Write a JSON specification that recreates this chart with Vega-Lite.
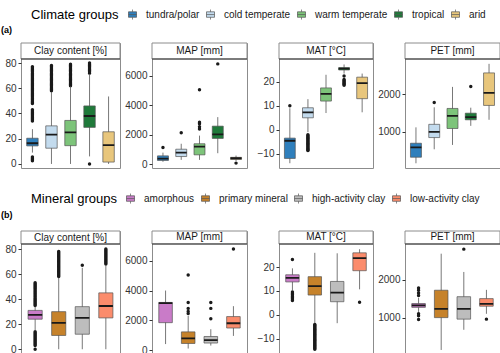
{
"$schema": "https://vega.github.io/schema/vega-lite/v6.json",
"padding": {"left": 0, "top": 9, "right": 1, "bottom": 0},
"autosize": {"type": "pad"},
"config": {
  "font": "Liberation Sans",
  "view": {"stroke": "#8c8c8c", "strokeWidth": 1},
  "axis": {"grid": false, "domain": false, "tickColor": "#333333", "tickSize": 3, "labelFontSize": 10, "labelColor": "#333333", "labelPadding": 2, "title": null, "labelOverlap": false, "labelBound": false, "labelFlush": false, "minExtent": 0, "tickCount": 10},
  "axisY": {"minExtent": 0, "labelOverlap": false},
  "circle": {"size": 12, "color": "#1a1a1a", "opacity": 1},
  "rule": {"color": "#555555", "strokeWidth": 0.8},
  "bar": {"stroke": "#555555", "strokeWidth": 0.7},
  "text": {"fontSize": 10, "color": "#1a1a1a"},
  "title": {"frame": "group"},
  "legend": {"titleOrient": "left", "titleFontSize": 13, "titleFontWeight": "normal", "titleColor": "#000000", "labelFontSize": 10, "labelColor": "#1a1a1a", "symbolType": "M-0.8,-0.55H0.8V0.55H-0.8Z M-0.8,0H0.8 M0,-0.55V-1 M0,0.55V1", "symbolSize": 100, "symbolStrokeColor": "#555555", "symbolStrokeWidth": 0.7, "symbolOpacity": 1, "columnPadding": 5, "labelOffset": 8, "titlePadding": 8, "padding": 0}
},
"datasets": {
  "boxA": [
    {"v": "Clay", "g": "tundra/polar", "lo": 9, "q1": 14.3, "med": 16.4, "q3": 20.4, "hi": 27.6},
    {"v": "Clay", "g": "cold temperate", "lo": 0, "q1": 12.5, "med": 23.3, "q3": 30.2, "hi": 57},
    {"v": "Clay", "g": "warm temperate", "lo": 0, "q1": 14.5, "med": 25, "q3": 34.5, "hi": 61.5},
    {"v": "Clay", "g": "tropical", "lo": 6, "q1": 29, "med": 38, "q3": 46, "hi": 71},
    {"v": "Clay", "g": "arid", "lo": 0, "q1": 1.5, "med": 15, "q3": 25.5, "hi": 53.5},
    {"v": "MAP", "g": "tundra/polar", "lo": 180, "q1": 270, "med": 400, "q3": 580, "hi": 800},
    {"v": "MAP", "g": "cold temperate", "lo": 310, "q1": 535, "med": 800, "q3": 1030, "hi": 1400},
    {"v": "MAP", "g": "warm temperate", "lo": 310, "q1": 650, "med": 1200, "q3": 1400, "hi": 1950},
    {"v": "MAP", "g": "tropical", "lo": 760, "q1": 1760, "med": 2030, "q3": 2590, "hi": 3200},
    {"v": "MAP", "g": "arid", "lo": 230, "q1": 340, "med": 420, "q3": 480, "hi": 600},
    {"v": "MAT", "g": "tundra/polar", "lo": -14, "q1": -12, "med": -4.6, "q3": -3.5, "hi": 9},
    {"v": "MAT", "g": "cold temperate", "lo": -1, "q1": 5, "med": 7.3, "q3": 9.2, "hi": 12.8},
    {"v": "MAT", "g": "warm temperate", "lo": 7, "q1": 12, "med": 15, "q3": 17.5, "hi": 23},
    {"v": "MAT", "g": "tropical", "lo": 23.5, "q1": 25, "med": 25.6, "q3": 26, "hi": 27.3},
    {"v": "MAT", "g": "arid", "lo": 7.3, "q1": 13, "med": 19.5, "q3": 22, "hi": 23.5},
    {"v": "PET", "g": "tundra/polar", "lo": 170, "q1": 330, "med": 590, "q3": 700, "hi": 1120},
    {"v": "PET", "g": "cold temperate", "lo": 540, "q1": 850, "med": 1000, "q3": 1200, "hi": 1650},
    {"v": "PET", "g": "warm temperate", "lo": 655, "q1": 1090, "med": 1425, "q3": 1620, "hi": 2190},
    {"v": "PET", "g": "tropical", "lo": 1160, "q1": 1320, "med": 1390, "q3": 1495, "hi": 1640},
    {"v": "PET", "g": "arid", "lo": 1320, "q1": 1700, "med": 2030, "q3": 2560, "hi": 2800}
  ],
  "outA": [
    {"v": "Clay", "g": "tundra/polar", "y": 2.6}, {"v": "Clay", "g": "tundra/polar", "y": 3.5}, {"v": "Clay", "g": "tundra/polar", "y": 4.5}, {"v": "Clay", "g": "tundra/polar", "y": 5.5},
    {"v": "Clay", "g": "tundra/polar", "y": 34}, {"v": "Clay", "g": "tundra/polar", "y": 35}, {"v": "Clay", "g": "tundra/polar", "y": 36}, {"v": "Clay", "g": "tundra/polar", "y": 37}, {"v": "Clay", "g": "tundra/polar", "y": 38}, {"v": "Clay", "g": "tundra/polar", "y": 39}, {"v": "Clay", "g": "tundra/polar", "y": 40}, {"v": "Clay", "g": "tundra/polar", "y": 41}, {"v": "Clay", "g": "tundra/polar", "y": 42}, {"v": "Clay", "g": "tundra/polar", "y": 43},
    {"v": "Clay", "g": "tundra/polar", "y": 48}, {"v": "Clay", "g": "tundra/polar", "y": 49}, {"v": "Clay", "g": "tundra/polar", "y": 50}, {"v": "Clay", "g": "tundra/polar", "y": 51}, {"v": "Clay", "g": "tundra/polar", "y": 52}, {"v": "Clay", "g": "tundra/polar", "y": 53}, {"v": "Clay", "g": "tundra/polar", "y": 54}, {"v": "Clay", "g": "tundra/polar", "y": 55}, {"v": "Clay", "g": "tundra/polar", "y": 56}, {"v": "Clay", "g": "tundra/polar", "y": 57}, {"v": "Clay", "g": "tundra/polar", "y": 58}, {"v": "Clay", "g": "tundra/polar", "y": 59}, {"v": "Clay", "g": "tundra/polar", "y": 60}, {"v": "Clay", "g": "tundra/polar", "y": 61}, {"v": "Clay", "g": "tundra/polar", "y": 62}, {"v": "Clay", "g": "tundra/polar", "y": 63}, {"v": "Clay", "g": "tundra/polar", "y": 64}, {"v": "Clay", "g": "tundra/polar", "y": 65}, {"v": "Clay", "g": "tundra/polar", "y": 66}, {"v": "Clay", "g": "tundra/polar", "y": 67}, {"v": "Clay", "g": "tundra/polar", "y": 68}, {"v": "Clay", "g": "tundra/polar", "y": 69}, {"v": "Clay", "g": "tundra/polar", "y": 70}, {"v": "Clay", "g": "tundra/polar", "y": 71}, {"v": "Clay", "g": "tundra/polar", "y": 72}, {"v": "Clay", "g": "tundra/polar", "y": 73}, {"v": "Clay", "g": "tundra/polar", "y": 74}, {"v": "Clay", "g": "tundra/polar", "y": 75}, {"v": "Clay", "g": "tundra/polar", "y": 76}, {"v": "Clay", "g": "tundra/polar", "y": 77},
    {"v": "Clay", "g": "cold temperate", "y": 58}, {"v": "Clay", "g": "cold temperate", "y": 59}, {"v": "Clay", "g": "cold temperate", "y": 60}, {"v": "Clay", "g": "cold temperate", "y": 61}, {"v": "Clay", "g": "cold temperate", "y": 62}, {"v": "Clay", "g": "cold temperate", "y": 63}, {"v": "Clay", "g": "cold temperate", "y": 64}, {"v": "Clay", "g": "cold temperate", "y": 65}, {"v": "Clay", "g": "cold temperate", "y": 66}, {"v": "Clay", "g": "cold temperate", "y": 67}, {"v": "Clay", "g": "cold temperate", "y": 68}, {"v": "Clay", "g": "cold temperate", "y": 69}, {"v": "Clay", "g": "cold temperate", "y": 70}, {"v": "Clay", "g": "cold temperate", "y": 71}, {"v": "Clay", "g": "cold temperate", "y": 72}, {"v": "Clay", "g": "cold temperate", "y": 73}, {"v": "Clay", "g": "cold temperate", "y": 74}, {"v": "Clay", "g": "cold temperate", "y": 75}, {"v": "Clay", "g": "cold temperate", "y": 76}, {"v": "Clay", "g": "cold temperate", "y": 77}, {"v": "Clay", "g": "cold temperate", "y": 78},
    {"v": "Clay", "g": "warm temperate", "y": 62}, {"v": "Clay", "g": "warm temperate", "y": 63}, {"v": "Clay", "g": "warm temperate", "y": 64}, {"v": "Clay", "g": "warm temperate", "y": 65}, {"v": "Clay", "g": "warm temperate", "y": 66}, {"v": "Clay", "g": "warm temperate", "y": 67}, {"v": "Clay", "g": "warm temperate", "y": 68}, {"v": "Clay", "g": "warm temperate", "y": 69}, {"v": "Clay", "g": "warm temperate", "y": 70}, {"v": "Clay", "g": "warm temperate", "y": 71}, {"v": "Clay", "g": "warm temperate", "y": 72}, {"v": "Clay", "g": "warm temperate", "y": 73}, {"v": "Clay", "g": "warm temperate", "y": 74}, {"v": "Clay", "g": "warm temperate", "y": 75}, {"v": "Clay", "g": "warm temperate", "y": 76}, {"v": "Clay", "g": "warm temperate", "y": 77}, {"v": "Clay", "g": "warm temperate", "y": 78}, {"v": "Clay", "g": "warm temperate", "y": 79},
    {"v": "Clay", "g": "tropical", "y": 0}, {"v": "Clay", "g": "tropical", "y": 72}, {"v": "Clay", "g": "tropical", "y": 73}, {"v": "Clay", "g": "tropical", "y": 74}, {"v": "Clay", "g": "tropical", "y": 75}, {"v": "Clay", "g": "tropical", "y": 76}, {"v": "Clay", "g": "tropical", "y": 77}, {"v": "Clay", "g": "tropical", "y": 78}, {"v": "Clay", "g": "tropical", "y": 79}, {"v": "Clay", "g": "tropical", "y": 80},
    {"v": "MAP", "g": "tundra/polar", "y": 1140}, {"v": "MAP", "g": "cold temperate", "y": 2150},
    {"v": "MAP", "g": "warm temperate", "y": 2400}, {"v": "MAP", "g": "warm temperate", "y": 2550}, {"v": "MAP", "g": "warm temperate", "y": 2750}, {"v": "MAP", "g": "warm temperate", "y": 2850}, {"v": "MAP", "g": "warm temperate", "y": 5050},
    {"v": "MAP", "g": "tropical", "y": 6800}, {"v": "MAP", "g": "arid", "y": 90},
    {"v": "MAT", "g": "tundra/polar", "y": 10},
    {"v": "MAT", "g": "cold temperate", "y": -2.1}, {"v": "MAT", "g": "cold temperate", "y": -2.5}, {"v": "MAT", "g": "cold temperate", "y": -2.9}, {"v": "MAT", "g": "cold temperate", "y": -3.3}, {"v": "MAT", "g": "cold temperate", "y": -3.7}, {"v": "MAT", "g": "cold temperate", "y": -4.1}, {"v": "MAT", "g": "cold temperate", "y": -4.5}, {"v": "MAT", "g": "cold temperate", "y": -4.9}, {"v": "MAT", "g": "cold temperate", "y": -5.3}, {"v": "MAT", "g": "cold temperate", "y": -5.7}, {"v": "MAT", "g": "cold temperate", "y": -6.1}, {"v": "MAT", "g": "cold temperate", "y": -6.5}, {"v": "MAT", "g": "cold temperate", "y": -6.9}, {"v": "MAT", "g": "cold temperate", "y": -7.3}, {"v": "MAT", "g": "cold temperate", "y": -7.7}, {"v": "MAT", "g": "cold temperate", "y": -8.1}, {"v": "MAT", "g": "cold temperate", "y": -8.5}, {"v": "MAT", "g": "cold temperate", "y": -8.7},
    {"v": "MAT", "g": "tropical", "y": 22.5}, {"v": "MAT", "g": "tropical", "y": 21}, {"v": "MAT", "g": "tropical", "y": 20.6}, {"v": "MAT", "g": "tropical", "y": 20.2}, {"v": "MAT", "g": "tropical", "y": 19.8}, {"v": "MAT", "g": "tropical", "y": 19.4}, {"v": "MAT", "g": "tropical", "y": 19}, {"v": "MAT", "g": "tropical", "y": 18.6},
    {"v": "PET", "g": "cold temperate", "y": 1780}, {"v": "PET", "g": "tropical", "y": 2200}
  ],
  "boxB": [
    {"v": "Clay", "g": "amorphous", "lo": 15, "q1": 24, "med": 27.5, "q3": 31, "hi": 34},
    {"v": "Clay", "g": "primary mineral", "lo": 0, "q1": 11, "med": 21, "q3": 30, "hi": 57},
    {"v": "Clay", "g": "high-activity clay", "lo": 0, "q1": 12, "med": 25, "q3": 34, "hi": 65},
    {"v": "Clay", "g": "low-activity clay", "lo": 0, "q1": 25, "med": 34.5, "q3": 45, "hi": 67},
    {"v": "MAP", "g": "amorphous", "lo": 400, "q1": 1840, "med": 3150, "q3": 3200, "hi": 4000},
    {"v": "MAP", "g": "primary mineral", "lo": 100, "q1": 440, "med": 780, "q3": 1220, "hi": 2300},
    {"v": "MAP", "g": "high-activity clay", "lo": 300, "q1": 470, "med": 670, "q3": 910, "hi": 1400},
    {"v": "MAP", "g": "low-activity clay", "lo": 950, "q1": 1480, "med": 1800, "q3": 2250, "hi": 2950},
    {"v": "MAT", "g": "amorphous", "lo": 10, "q1": 13.8, "med": 15.5, "q3": 16.8, "hi": 19.5},
    {"v": "MAT", "g": "primary mineral", "lo": -3.5, "q1": 8.3, "med": 12, "q3": 16, "hi": 26},
    {"v": "MAT", "g": "high-activity clay", "lo": -3.5, "q1": 5.5, "med": 9.3, "q3": 14, "hi": 25.8},
    {"v": "MAT", "g": "low-activity clay", "lo": 10.7, "q1": 18.5, "med": 23.8, "q3": 26, "hi": 27.5},
    {"v": "PET", "g": "amorphous", "lo": 1150, "q1": 1270, "med": 1320, "q3": 1370, "hi": 1520},
    {"v": "PET", "g": "primary mineral", "lo": 150, "q1": 1000, "med": 1230, "q3": 1720, "hi": 2680},
    {"v": "PET", "g": "high-activity clay", "lo": 680, "q1": 960, "med": 1230, "q3": 1550, "hi": 2200},
    {"v": "PET", "g": "low-activity clay", "lo": 1100, "q1": 1300, "med": 1360, "q3": 1500, "hi": 1730}
  ],
  "outB": [
    {"v": "Clay", "g": "amorphous", "y": 0}, {"v": "Clay", "g": "amorphous", "y": 3}, {"v": "Clay", "g": "amorphous", "y": 4}, {"v": "Clay", "g": "amorphous", "y": 5}, {"v": "Clay", "g": "amorphous", "y": 6}, {"v": "Clay", "g": "amorphous", "y": 7}, {"v": "Clay", "g": "amorphous", "y": 8}, {"v": "Clay", "g": "amorphous", "y": 9}, {"v": "Clay", "g": "amorphous", "y": 10}, {"v": "Clay", "g": "amorphous", "y": 11}, {"v": "Clay", "g": "amorphous", "y": 12}, {"v": "Clay", "g": "amorphous", "y": 13}, {"v": "Clay", "g": "amorphous", "y": 14},
    {"v": "Clay", "g": "amorphous", "y": 35}, {"v": "Clay", "g": "amorphous", "y": 36}, {"v": "Clay", "g": "amorphous", "y": 37}, {"v": "Clay", "g": "amorphous", "y": 38}, {"v": "Clay", "g": "amorphous", "y": 39}, {"v": "Clay", "g": "amorphous", "y": 40}, {"v": "Clay", "g": "amorphous", "y": 41}, {"v": "Clay", "g": "amorphous", "y": 42}, {"v": "Clay", "g": "amorphous", "y": 43}, {"v": "Clay", "g": "amorphous", "y": 44}, {"v": "Clay", "g": "amorphous", "y": 45}, {"v": "Clay", "g": "amorphous", "y": 46}, {"v": "Clay", "g": "amorphous", "y": 47}, {"v": "Clay", "g": "amorphous", "y": 48}, {"v": "Clay", "g": "amorphous", "y": 49}, {"v": "Clay", "g": "amorphous", "y": 50}, {"v": "Clay", "g": "amorphous", "y": 51}, {"v": "Clay", "g": "amorphous", "y": 52}, {"v": "Clay", "g": "amorphous", "y": 53},
    {"v": "Clay", "g": "primary mineral", "y": 58}, {"v": "Clay", "g": "primary mineral", "y": 59}, {"v": "Clay", "g": "primary mineral", "y": 60}, {"v": "Clay", "g": "primary mineral", "y": 61}, {"v": "Clay", "g": "primary mineral", "y": 62}, {"v": "Clay", "g": "primary mineral", "y": 63}, {"v": "Clay", "g": "primary mineral", "y": 64}, {"v": "Clay", "g": "primary mineral", "y": 65}, {"v": "Clay", "g": "primary mineral", "y": 66}, {"v": "Clay", "g": "primary mineral", "y": 67}, {"v": "Clay", "g": "primary mineral", "y": 68}, {"v": "Clay", "g": "primary mineral", "y": 69}, {"v": "Clay", "g": "primary mineral", "y": 70}, {"v": "Clay", "g": "primary mineral", "y": 71}, {"v": "Clay", "g": "primary mineral", "y": 72}, {"v": "Clay", "g": "primary mineral", "y": 73}, {"v": "Clay", "g": "primary mineral", "y": 74}, {"v": "Clay", "g": "primary mineral", "y": 75}, {"v": "Clay", "g": "primary mineral", "y": 76}, {"v": "Clay", "g": "primary mineral", "y": 77}, {"v": "Clay", "g": "primary mineral", "y": 78},
    {"v": "Clay", "g": "high-activity clay", "y": 67},
    {"v": "Clay", "g": "low-activity clay", "y": 68}, {"v": "Clay", "g": "low-activity clay", "y": 69}, {"v": "Clay", "g": "low-activity clay", "y": 70}, {"v": "Clay", "g": "low-activity clay", "y": 71}, {"v": "Clay", "g": "low-activity clay", "y": 72}, {"v": "Clay", "g": "low-activity clay", "y": 73}, {"v": "Clay", "g": "low-activity clay", "y": 74}, {"v": "Clay", "g": "low-activity clay", "y": 75}, {"v": "Clay", "g": "low-activity clay", "y": 76}, {"v": "Clay", "g": "low-activity clay", "y": 77}, {"v": "Clay", "g": "low-activity clay", "y": 78}, {"v": "Clay", "g": "low-activity clay", "y": 79}, {"v": "Clay", "g": "low-activity clay", "y": 80},
    {"v": "MAP", "g": "primary mineral", "y": 2450}, {"v": "MAP", "g": "primary mineral", "y": 2600}, {"v": "MAP", "g": "primary mineral", "y": 2800}, {"v": "MAP", "g": "primary mineral", "y": 3200}, {"v": "MAP", "g": "primary mineral", "y": 5050},
    {"v": "MAP", "g": "high-activity clay", "y": 2100}, {"v": "MAP", "g": "high-activity clay", "y": 2800}, {"v": "MAP", "g": "high-activity clay", "y": 3200},
    {"v": "MAP", "g": "low-activity clay", "y": 6800},
    {"v": "MAT", "g": "amorphous", "y": 23.2}, {"v": "MAT", "g": "amorphous", "y": 9.6}, {"v": "MAT", "g": "amorphous", "y": 9}, {"v": "MAT", "g": "amorphous", "y": 8.4}, {"v": "MAT", "g": "amorphous", "y": 7.8}, {"v": "MAT", "g": "amorphous", "y": 7.2}, {"v": "MAT", "g": "amorphous", "y": 6.6}, {"v": "MAT", "g": "amorphous", "y": 6},
    {"v": "MAT", "g": "primary mineral", "y": -4}, {"v": "MAT", "g": "primary mineral", "y": -4.4}, {"v": "MAT", "g": "primary mineral", "y": -4.8}, {"v": "MAT", "g": "primary mineral", "y": -5.2}, {"v": "MAT", "g": "primary mineral", "y": -5.6}, {"v": "MAT", "g": "primary mineral", "y": -6}, {"v": "MAT", "g": "primary mineral", "y": -6.4}, {"v": "MAT", "g": "primary mineral", "y": -6.8}, {"v": "MAT", "g": "primary mineral", "y": -7.2}, {"v": "MAT", "g": "primary mineral", "y": -7.6}, {"v": "MAT", "g": "primary mineral", "y": -8}, {"v": "MAT", "g": "primary mineral", "y": -8.4}, {"v": "MAT", "g": "primary mineral", "y": -8.8}, {"v": "MAT", "g": "primary mineral", "y": -9.2}, {"v": "MAT", "g": "primary mineral", "y": -9.6}, {"v": "MAT", "g": "primary mineral", "y": -10}, {"v": "MAT", "g": "primary mineral", "y": -10.4}, {"v": "MAT", "g": "primary mineral", "y": -10.8}, {"v": "MAT", "g": "primary mineral", "y": -11.2}, {"v": "MAT", "g": "primary mineral", "y": -11.6}, {"v": "MAT", "g": "primary mineral", "y": -12}, {"v": "MAT", "g": "primary mineral", "y": -12.4}, {"v": "MAT", "g": "primary mineral", "y": -12.8}, {"v": "MAT", "g": "primary mineral", "y": -13.2}, {"v": "MAT", "g": "primary mineral", "y": -13.6}, {"v": "MAT", "g": "primary mineral", "y": -14}, {"v": "MAT", "g": "primary mineral", "y": -14.4},
    {"v": "MAT", "g": "low-activity clay", "y": 5.3},
    {"v": "PET", "g": "amorphous", "y": 1580}, {"v": "PET", "g": "amorphous", "y": 1650}, {"v": "PET", "g": "amorphous", "y": 1720}, {"v": "PET", "g": "amorphous", "y": 1780}, {"v": "PET", "g": "amorphous", "y": 1100}, {"v": "PET", "g": "amorphous", "y": 1050}, {"v": "PET", "g": "amorphous", "y": 950},
    {"v": "PET", "g": "high-activity clay", "y": 2800},
    {"v": "PET", "g": "low-activity clay", "y": 960}
  ]
},
"spacing": 23,
"resolve": {"scale": {"fill": "independent"}, "legend": {"fill": "independent"}},
"vconcat": [
  {
    "hconcat": [
      {"width": 99, "height": 125,
       "title": {"text": "(a)", "anchor": "start", "frame": "group", "dx": -20, "fontSize": 9, "fontWeight": "bold", "baseline": "alphabetic", "offset": 1},
       "data": {"values": [{"t": "Clay content [%]"}]},
       "layer": [
        {"mark": {"type": "rect", "fill": "white", "stroke": "#8c8c8c", "strokeWidth": 1}, "encoding": {"y": {"datum": 83.2, "type": "quantitative", "scale": {"domain": [-3.2, 95.88], "nice": false, "zero": false}, "axis": {"values": [0, 20, 40, 60, 80], "tickCount": 10, "labelOverlap": false}}, "y2": {"datum": 95.88}}},
        {"mark": {"type": "rule", "color": "#333333", "strokeWidth": 1}, "encoding": {"y": {"datum": 83.2, "type": "quantitative"}}},
        {"mark": "text", "encoding": {"y": {"datum": 89.54, "type": "quantitative"}, "text": {"field": "t"}}},
        {"data": {"name": "outA"}, "transform": [{"filter": "datum.v == 'Clay'"}], "mark": "circle", "encoding": {"x": {"field": "g", "type": "nominal", "axis": null, "scale": {"domain": ["tundra/polar", "cold temperate", "warm temperate", "tropical", "arid"], "paddingInner": 0, "paddingOuter": 0.1}}, "y": {"field": "y", "type": "quantitative"}}},
        {"data": {"name": "boxA"}, "transform": [{"filter": "datum.v == 'Clay'"}], "mark": "rule", "encoding": {"x": {"field": "g", "type": "nominal"}, "y": {"field": "lo", "type": "quantitative"}, "y2": {"field": "hi"}}},
        {"data": {"name": "boxA"}, "transform": [{"filter": "datum.v == 'Clay'"}], "mark": {"type": "bar", "width": {"band": 0.6}}, "encoding": {"x": {"field": "g", "type": "nominal"}, "y": {"field": "q1", "type": "quantitative"}, "y2": {"field": "q3"}, "fill": {"field": "g", "type": "nominal", "scale": {"domain": ["tundra/polar", "cold temperate", "warm temperate", "tropical", "arid"], "range": ["#2f7fbc", "#c3dbee", "#7dc47a", "#1f7a3a", "#e8c67c"]}, "legend": {"title": "Climate groups", "orient": "none", "legendX": 10, "legendY": -34, "direction": "horizontal"}}}},
        {"data": {"name": "boxA"}, "transform": [{"filter": "datum.v == 'Clay'"}], "mark": {"type": "bar", "width": {"band": 0.6}, "fillOpacity": 0, "stroke": "#1a1a1a", "strokeWidth": 1.8}, "encoding": {"x": {"field": "g", "type": "nominal"}, "y": {"field": "med", "type": "quantitative"}, "y2": {"field": "med"}}}
       ]},
      {"width": 95, "height": 125,
       "data": {"values": [{"t": "MAP [mm]"}]},
       "layer": [
        {"mark": {"type": "rect", "fill": "white", "stroke": "#8c8c8c", "strokeWidth": 1}, "encoding": {"y": {"datum": 7130, "type": "quantitative", "scale": {"domain": [-240, 8211.9], "nice": false, "zero": false}, "axis": {"values": [0, 2000, 4000, 6000], "tickCount": 10, "format": "d", "labelOverlap": false}}, "y2": {"datum": 8211.9}}},
        {"mark": {"type": "rule", "color": "#333333", "strokeWidth": 1}, "encoding": {"y": {"datum": 7130, "type": "quantitative"}}},
        {"mark": "text", "encoding": {"y": {"datum": 7671, "type": "quantitative"}, "text": {"field": "t"}}},
        {"data": {"name": "outA"}, "transform": [{"filter": "datum.v == 'MAP'"}], "mark": "circle", "encoding": {"x": {"field": "g", "type": "nominal", "axis": null, "scale": {"domain": ["tundra/polar", "cold temperate", "warm temperate", "tropical", "arid"], "paddingInner": 0, "paddingOuter": 0.1}}, "y": {"field": "y", "type": "quantitative"}}},
        {"data": {"name": "boxA"}, "transform": [{"filter": "datum.v == 'MAP'"}], "mark": "rule", "encoding": {"x": {"field": "g", "type": "nominal"}, "y": {"field": "lo", "type": "quantitative"}, "y2": {"field": "hi"}}},
        {"data": {"name": "boxA"}, "transform": [{"filter": "datum.v == 'MAP'"}], "mark": {"type": "bar", "width": {"band": 0.6}}, "encoding": {"x": {"field": "g", "type": "nominal"}, "y": {"field": "q1", "type": "quantitative"}, "y2": {"field": "q3"}, "fill": {"field": "g", "type": "nominal", "scale": {"domain": ["tundra/polar", "cold temperate", "warm temperate", "tropical", "arid"], "range": ["#2f7fbc", "#c3dbee", "#7dc47a", "#1f7a3a", "#e8c67c"]}, "legend": {"title": "Climate groups", "orient": "none", "legendX": 10, "legendY": -34, "direction": "horizontal"}}}},
        {"data": {"name": "boxA"}, "transform": [{"filter": "datum.v == 'MAP'"}], "mark": {"type": "bar", "width": {"band": 0.6}, "fillOpacity": 0, "stroke": "#1a1a1a", "strokeWidth": 1.8}, "encoding": {"x": {"field": "g", "type": "nominal"}, "y": {"field": "med", "type": "quantitative"}, "y2": {"field": "med"}}}
       ]},
      {"width": 94, "height": 125,
       "data": {"values": [{"t": "MAT [°C]"}]},
       "layer": [
        {"mark": {"type": "rect", "fill": "white", "stroke": "#8c8c8c", "strokeWidth": 1}, "encoding": {"y": {"datum": 29.6, "type": "quantitative", "scale": {"domain": [-16, 36.294], "nice": false, "zero": false}, "axis": {"values": [-10, 0, 10, 20], "tickCount": 10, "labelOverlap": false}}, "y2": {"datum": 36.294}}},
        {"mark": {"type": "rule", "color": "#333333", "strokeWidth": 1}, "encoding": {"y": {"datum": 29.6, "type": "quantitative"}}},
        {"mark": "text", "encoding": {"y": {"datum": 32.947, "type": "quantitative"}, "text": {"field": "t"}}},
        {"data": {"name": "outA"}, "transform": [{"filter": "datum.v == 'MAT'"}], "mark": "circle", "encoding": {"x": {"field": "g", "type": "nominal", "axis": null, "scale": {"domain": ["tundra/polar", "cold temperate", "warm temperate", "tropical", "arid"], "paddingInner": 0, "paddingOuter": 0.1}}, "y": {"field": "y", "type": "quantitative"}}},
        {"data": {"name": "boxA"}, "transform": [{"filter": "datum.v == 'MAT'"}], "mark": "rule", "encoding": {"x": {"field": "g", "type": "nominal"}, "y": {"field": "lo", "type": "quantitative"}, "y2": {"field": "hi"}}},
        {"data": {"name": "boxA"}, "transform": [{"filter": "datum.v == 'MAT'"}], "mark": {"type": "bar", "width": {"band": 0.6}}, "encoding": {"x": {"field": "g", "type": "nominal"}, "y": {"field": "q1", "type": "quantitative"}, "y2": {"field": "q3"}, "fill": {"field": "g", "type": "nominal", "scale": {"domain": ["tundra/polar", "cold temperate", "warm temperate", "tropical", "arid"], "range": ["#2f7fbc", "#c3dbee", "#7dc47a", "#1f7a3a", "#e8c67c"]}, "legend": {"title": "Climate groups", "orient": "none", "legendX": 10, "legendY": -34, "direction": "horizontal"}}}},
        {"data": {"name": "boxA"}, "transform": [{"filter": "datum.v == 'MAT'"}], "mark": {"type": "bar", "width": {"band": 0.6}, "fillOpacity": 0, "stroke": "#1a1a1a", "strokeWidth": 1.8}, "encoding": {"x": {"field": "g", "type": "nominal"}, "y": {"field": "med", "type": "quantitative"}, "y2": {"field": "med"}}}
       ]},
      {"width": 95, "height": 125,
       "data": {"values": [{"t": "PET [mm]"}]},
       "layer": [
        {"mark": {"type": "rect", "fill": "white", "stroke": "#8c8c8c", "strokeWidth": 1}, "encoding": {"y": {"datum": 2928, "type": "quantitative", "scale": {"domain": [45, 3351.2], "nice": false, "zero": false}, "axis": {"values": [1000, 2000], "tickCount": 10, "format": "d", "labelOverlap": false}}, "y2": {"datum": 3351.2}}},
        {"mark": {"type": "rule", "color": "#333333", "strokeWidth": 1}, "encoding": {"y": {"datum": 2928, "type": "quantitative"}}},
        {"mark": "text", "encoding": {"y": {"datum": 3139.6, "type": "quantitative"}, "text": {"field": "t"}}},
        {"data": {"name": "outA"}, "transform": [{"filter": "datum.v == 'PET'"}], "mark": "circle", "encoding": {"x": {"field": "g", "type": "nominal", "axis": null, "scale": {"domain": ["tundra/polar", "cold temperate", "warm temperate", "tropical", "arid"], "paddingInner": 0, "paddingOuter": 0.1}}, "y": {"field": "y", "type": "quantitative"}}},
        {"data": {"name": "boxA"}, "transform": [{"filter": "datum.v == 'PET'"}], "mark": "rule", "encoding": {"x": {"field": "g", "type": "nominal"}, "y": {"field": "lo", "type": "quantitative"}, "y2": {"field": "hi"}}},
        {"data": {"name": "boxA"}, "transform": [{"filter": "datum.v == 'PET'"}], "mark": {"type": "bar", "width": {"band": 0.6}}, "encoding": {"x": {"field": "g", "type": "nominal"}, "y": {"field": "q1", "type": "quantitative"}, "y2": {"field": "q3"}, "fill": {"field": "g", "type": "nominal", "scale": {"domain": ["tundra/polar", "cold temperate", "warm temperate", "tropical", "arid"], "range": ["#2f7fbc", "#c3dbee", "#7dc47a", "#1f7a3a", "#e8c67c"]}, "legend": {"title": "Climate groups", "orient": "none", "legendX": 10, "legendY": -34, "direction": "horizontal"}}}},
        {"data": {"name": "boxA"}, "transform": [{"filter": "datum.v == 'PET'"}], "mark": {"type": "bar", "width": {"band": 0.6}, "fillOpacity": 0, "stroke": "#1a1a1a", "strokeWidth": 1.8}, "encoding": {"x": {"field": "g", "type": "nominal"}, "y": {"field": "med", "type": "quantitative"}, "y2": {"field": "med"}}}
       ]}
    ],
    "spacing": 32, "bounds": "flush",
    "resolve": {"scale": {"fill": "shared", "x": "independent", "y": "independent"}, "legend": {"fill": "shared"}}
  },
  {
    "hconcat": [
      {"width": 99, "height": 122,
       "title": {"text": "(b)", "anchor": "start", "frame": "group", "dx": -20, "fontSize": 9, "fontWeight": "bold", "baseline": "alphabetic", "offset": 4},
       "data": {"values": [{"t": "Clay content [%]"}]},
       "layer": [
        {"mark": {"type": "rect", "fill": "white", "stroke": "#8c8c8c", "strokeWidth": 1}, "encoding": {"y": {"datum": 84, "type": "quantitative", "scale": {"domain": [-3, 94.38], "nice": false, "zero": false}, "axis": {"values": [0, 20, 40, 60, 80], "tickCount": 10, "labelOverlap": false}}, "y2": {"datum": 94.38}}},
        {"mark": {"type": "rule", "color": "#333333", "strokeWidth": 1}, "encoding": {"y": {"datum": 84, "type": "quantitative"}}},
        {"mark": "text", "encoding": {"y": {"datum": 89.19, "type": "quantitative"}, "text": {"field": "t"}}},
        {"data": {"name": "outB"}, "transform": [{"filter": "datum.v == 'Clay'"}], "mark": "circle", "encoding": {"x": {"field": "g", "type": "nominal", "axis": null, "scale": {"domain": ["amorphous", "primary mineral", "high-activity clay", "low-activity clay"], "paddingInner": 0, "paddingOuter": 0.1}}, "y": {"field": "y", "type": "quantitative"}}},
        {"data": {"name": "boxB"}, "transform": [{"filter": "datum.v == 'Clay'"}], "mark": "rule", "encoding": {"x": {"field": "g", "type": "nominal"}, "y": {"field": "lo", "type": "quantitative"}, "y2": {"field": "hi"}}},
        {"data": {"name": "boxB"}, "transform": [{"filter": "datum.v == 'Clay'"}], "mark": {"type": "bar", "width": {"band": 0.6}}, "encoding": {"x": {"field": "g", "type": "nominal"}, "y": {"field": "q1", "type": "quantitative"}, "y2": {"field": "q3"}, "fill": {"field": "g", "type": "nominal", "scale": {"domain": ["amorphous", "primary mineral", "high-activity clay", "low-activity clay"], "range": ["#c97bc8", "#c6822a", "#bdbdbd", "#fb8c6c"]}, "legend": {"title": "Mineral groups", "orient": "none", "legendX": 10, "legendY": -38, "direction": "horizontal"}}}},
        {"data": {"name": "boxB"}, "transform": [{"filter": "datum.v == 'Clay'"}], "mark": {"type": "bar", "width": {"band": 0.6}, "fillOpacity": 0, "stroke": "#1a1a1a", "strokeWidth": 1.8}, "encoding": {"x": {"field": "g", "type": "nominal"}, "y": {"field": "med", "type": "quantitative"}, "y2": {"field": "med"}}}
       ]},
      {"width": 95, "height": 122,
       "data": {"values": [{"t": "MAP [mm]"}]},
       "layer": [
        {"mark": {"type": "rect", "fill": "white", "stroke": "#8c8c8c", "strokeWidth": 1}, "encoding": {"y": {"datum": 7130, "type": "quantitative", "scale": {"domain": [-200, 8004.2], "nice": false, "zero": false}, "axis": {"values": [0, 2000, 4000, 6000], "tickCount": 10, "format": "d", "labelOverlap": false}}, "y2": {"datum": 8004.2}}},
        {"mark": {"type": "rule", "color": "#333333", "strokeWidth": 1}, "encoding": {"y": {"datum": 7130, "type": "quantitative"}}},
        {"mark": "text", "encoding": {"y": {"datum": 7567.1, "type": "quantitative"}, "text": {"field": "t"}}},
        {"data": {"name": "outB"}, "transform": [{"filter": "datum.v == 'MAP'"}], "mark": "circle", "encoding": {"x": {"field": "g", "type": "nominal", "axis": null, "scale": {"domain": ["amorphous", "primary mineral", "high-activity clay", "low-activity clay"], "paddingInner": 0, "paddingOuter": 0.1}}, "y": {"field": "y", "type": "quantitative"}}},
        {"data": {"name": "boxB"}, "transform": [{"filter": "datum.v == 'MAP'"}], "mark": "rule", "encoding": {"x": {"field": "g", "type": "nominal"}, "y": {"field": "lo", "type": "quantitative"}, "y2": {"field": "hi"}}},
        {"data": {"name": "boxB"}, "transform": [{"filter": "datum.v == 'MAP'"}], "mark": {"type": "bar", "width": {"band": 0.6}}, "encoding": {"x": {"field": "g", "type": "nominal"}, "y": {"field": "q1", "type": "quantitative"}, "y2": {"field": "q3"}, "fill": {"field": "g", "type": "nominal", "scale": {"domain": ["amorphous", "primary mineral", "high-activity clay", "low-activity clay"], "range": ["#c97bc8", "#c6822a", "#bdbdbd", "#fb8c6c"]}, "legend": {"title": "Mineral groups", "orient": "none", "legendX": 10, "legendY": -38, "direction": "horizontal"}}}},
        {"data": {"name": "boxB"}, "transform": [{"filter": "datum.v == 'MAP'"}], "mark": {"type": "bar", "width": {"band": 0.6}, "fillOpacity": 0, "stroke": "#1a1a1a", "strokeWidth": 1.8}, "encoding": {"x": {"field": "g", "type": "nominal"}, "y": {"field": "med", "type": "quantitative"}, "y2": {"field": "med"}}}
       ]},
      {"width": 94, "height": 122,
       "data": {"values": [{"t": "MAT [°C]"}]},
       "layer": [
        {"mark": {"type": "rect", "fill": "white", "stroke": "#8c8c8c", "strokeWidth": 1}, "encoding": {"y": {"datum": 29.7, "type": "quantitative", "scale": {"domain": [-16, 35.151], "nice": false, "zero": false}, "axis": {"values": [-10, 0, 10, 20], "tickCount": 10, "labelOverlap": false}}, "y2": {"datum": 35.151}}},
        {"mark": {"type": "rule", "color": "#333333", "strokeWidth": 1}, "encoding": {"y": {"datum": 29.7, "type": "quantitative"}}},
        {"mark": "text", "encoding": {"y": {"datum": 32.43, "type": "quantitative"}, "text": {"field": "t"}}},
        {"data": {"name": "outB"}, "transform": [{"filter": "datum.v == 'MAT'"}], "mark": "circle", "encoding": {"x": {"field": "g", "type": "nominal", "axis": null, "scale": {"domain": ["amorphous", "primary mineral", "high-activity clay", "low-activity clay"], "paddingInner": 0, "paddingOuter": 0.1}}, "y": {"field": "y", "type": "quantitative"}}},
        {"data": {"name": "boxB"}, "transform": [{"filter": "datum.v == 'MAT'"}], "mark": "rule", "encoding": {"x": {"field": "g", "type": "nominal"}, "y": {"field": "lo", "type": "quantitative"}, "y2": {"field": "hi"}}},
        {"data": {"name": "boxB"}, "transform": [{"filter": "datum.v == 'MAT'"}], "mark": {"type": "bar", "width": {"band": 0.6}}, "encoding": {"x": {"field": "g", "type": "nominal"}, "y": {"field": "q1", "type": "quantitative"}, "y2": {"field": "q3"}, "fill": {"field": "g", "type": "nominal", "scale": {"domain": ["amorphous", "primary mineral", "high-activity clay", "low-activity clay"], "range": ["#c97bc8", "#c6822a", "#bdbdbd", "#fb8c6c"]}, "legend": {"title": "Mineral groups", "orient": "none", "legendX": 10, "legendY": -38, "direction": "horizontal"}}}},
        {"data": {"name": "boxB"}, "transform": [{"filter": "datum.v == 'MAT'"}], "mark": {"type": "bar", "width": {"band": 0.6}, "fillOpacity": 0, "stroke": "#1a1a1a", "strokeWidth": 1.8}, "encoding": {"x": {"field": "g", "type": "nominal"}, "y": {"field": "med", "type": "quantitative"}, "y2": {"field": "med"}}}
       ]},
      {"width": 95, "height": 122,
       "data": {"values": [{"t": "PET [mm]"}]},
       "layer": [
        {"mark": {"type": "rect", "fill": "white", "stroke": "#8c8c8c", "strokeWidth": 1}, "encoding": {"y": {"datum": 2935, "type": "quantitative", "scale": {"domain": [70, 3276.7], "nice": false, "zero": false}, "axis": {"values": [1000, 2000], "tickCount": 10, "format": "d", "labelOverlap": false}}, "y2": {"datum": 3276.7}}},
        {"mark": {"type": "rule", "color": "#333333", "strokeWidth": 1}, "encoding": {"y": {"datum": 2935, "type": "quantitative"}}},
        {"mark": "text", "encoding": {"y": {"datum": 3105.9, "type": "quantitative"}, "text": {"field": "t"}}},
        {"data": {"name": "outB"}, "transform": [{"filter": "datum.v == 'PET'"}], "mark": "circle", "encoding": {"x": {"field": "g", "type": "nominal", "axis": null, "scale": {"domain": ["amorphous", "primary mineral", "high-activity clay", "low-activity clay"], "paddingInner": 0, "paddingOuter": 0.1}}, "y": {"field": "y", "type": "quantitative"}}},
        {"data": {"name": "boxB"}, "transform": [{"filter": "datum.v == 'PET'"}], "mark": "rule", "encoding": {"x": {"field": "g", "type": "nominal"}, "y": {"field": "lo", "type": "quantitative"}, "y2": {"field": "hi"}}},
        {"data": {"name": "boxB"}, "transform": [{"filter": "datum.v == 'PET'"}], "mark": {"type": "bar", "width": {"band": 0.6}}, "encoding": {"x": {"field": "g", "type": "nominal"}, "y": {"field": "q1", "type": "quantitative"}, "y2": {"field": "q3"}, "fill": {"field": "g", "type": "nominal", "scale": {"domain": ["amorphous", "primary mineral", "high-activity clay", "low-activity clay"], "range": ["#c97bc8", "#c6822a", "#bdbdbd", "#fb8c6c"]}, "legend": {"title": "Mineral groups", "orient": "none", "legendX": 10, "legendY": -38, "direction": "horizontal"}}}},
        {"data": {"name": "boxB"}, "transform": [{"filter": "datum.v == 'PET'"}], "mark": {"type": "bar", "width": {"band": 0.6}, "fillOpacity": 0, "stroke": "#1a1a1a", "strokeWidth": 1.8}, "encoding": {"x": {"field": "g", "type": "nominal"}, "y": {"field": "med", "type": "quantitative"}, "y2": {"field": "med"}}}
       ]}
    ],
    "spacing": 32, "bounds": "flush",
    "resolve": {"scale": {"fill": "shared", "x": "independent", "y": "independent"}, "legend": {"fill": "shared"}}
  }
]
}
